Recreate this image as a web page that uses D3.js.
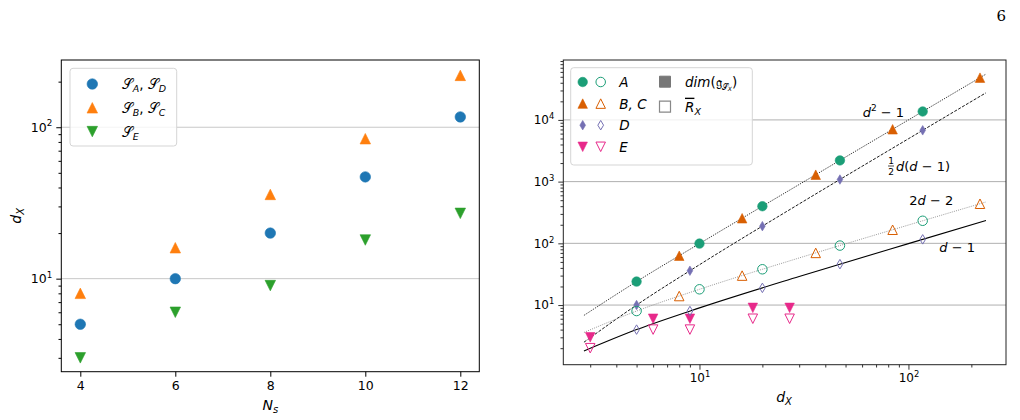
<!DOCTYPE html>
<html>
<head>
<meta charset="utf-8">
<script src="https://cdn.jsdelivr.net/npm/d3@7"></script>
<style>
  body { margin: 0; background: #fff; }
  svg text { font-family: "DejaVu Sans", sans-serif; fill: #000; }
  .it { font-style: italic; }
</style>
</head>
<body>
<div id="chart"></div>
<script>
// Left panel data: d_X against N_s
const nsValues = [4, 6, 8, 10, 12];
const dxAD = [5, 10, 20, 47, 117];
const dxBC = [8, 16, 36, 84, 220];
const dxE = [3, 6, 9, 18, 27];

// Right panel data: dim(g) (filled) and R_X (hollow) against d_X
const dxA = [5, 10, 20, 47, 117];
const dimA = [24, 99, 399, 2208, 13688];
const rankA = [8, 18, 38, 92, 232];
const dxB = [8, 16, 36, 84, 220];
const dimB = [63, 255, 1295, 7055, 48399];
const rankB = [14, 30, 70, 166, 438];
const dxD = [5, 9, 20, 47, 117];
const dimD = [10, 36, 190, 1081, 6786];
const rankD = [4, 8, 19, 46, 116];
const dxE2 = [3, 6, 9, 18, 27];
const dimE = [3, 6, 6, 9, 9];
const rankE = [2, 4, 4, 6, 6];

// Reference curves at a few d_X values
const curveSq = [[2.8, 6.8], [5, 24], [10, 99], [30, 899], [100, 9999], [235, 55224]];
const curveHalf = [[2.8, 2.5], [5, 10], [10, 45], [30, 435], [100, 4950], [235, 27495]];
const curveTwo = [[2.8, 3.6], [5, 8], [10, 18], [30, 58], [100, 198], [235, 468]];
const curveOne = [[2.8, 1.8], [5, 4], [10, 9], [30, 29], [100, 99], [235, 234]];

const leftTicksX = [4, 6, 8, 10, 12];
const leftMajorY = [10, 100];
const rightMajorX = [10, 100];
const rightMajorY = [10, 100, 1000, 10000];

const tab = { blue: '#1f77b4', orange: '#ff7f0e', green: '#2ca02c' };
const dark2 = { green: '#1b9e77', orange: '#d95f02', purple: '#7570b3', pink: '#e7298a' };

const svg = d3.select('#chart').append('svg')
  .attr('width', 1020).attr('height', 420);

// marker paths, size = full height in px
function markerPath(kind, s) {
  const h = s / 2;
  if (kind === 'circle') {
    return `M${h},0A${h},${h} 0 1,1 ${-h},0A${h},${h} 0 1,1 ${h},0Z`;
  }
  if (kind === 'up') return `M0,${-h}L${h},${h}L${-h},${h}Z`;
  if (kind === 'down') return `M0,${h}L${h},${-h}L${-h},${-h}Z`;
  if (kind === 'diamond') return `M0,${-h}L${h * 0.6},0L0,${h}L${-h * 0.6},0Z`;
  if (kind === 'square') return `M${-h},${-h}H${h}V${h}H${-h}Z`;
}

function drawMarker(g, x, y, kind, s, color, hollow) {
  g.append('path')
    .attr('transform', `translate(${x},${y})`)
    .attr('d', markerPath(kind, s))
    .attr('fill', hollow ? 'none' : color)
    .attr('stroke', color)
    .attr('stroke-width', hollow ? 1 : 0.6);
}

function powerLabel(sel, fs) {
  sel.each(function(d) {
    const t = d3.select(this);
    t.text('');
    t.append('tspan').text('10');
    t.append('tspan').attr('dy', -fs * 0.42).attr('font-size', fs * 0.7)
      .text(Math.round(Math.log10(d)));
  });
}

function minorTicks(lo, hi) {
  const out = [];
  for (let e = -1; e < 6; e++) {
    for (let m = 2; m < 10; m++) {
      const v = m * Math.pow(10, e);
      if (v > lo && v < hi) out.push(v);
    }
  }
  return out;
}

/* ---------- Left panel ---------- */
const L = { left: 61.3, right: 479.3, top: 60, bottom: 371.7 };
const xL = d3.scaleLinear().domain([3.6, 12.4]).range([L.left, L.right]);
const yL = d3.scaleLog().domain([2.43, 278]).range([L.bottom, L.top]);

const gl = svg.append('g');

// Gridlines
gl.selectAll('.gridL')
  .data(leftMajorY)
  .enter().append('line')
  .attr('x1', L.left).attr('x2', L.right)
  .attr('y1', d => yL(d)).attr('y2', d => yL(d))
  .attr('stroke', '#c8c8c8').attr('stroke-width', 1);

// Points
nsValues.forEach((n, i) => {
  drawMarker(gl, xL(n), yL(dxAD[i]), 'circle', 10.5, tab.blue, false);
  drawMarker(gl, xL(n), yL(dxBC[i]), 'up', 10.5, tab.orange, false);
  drawMarker(gl, xL(n), yL(dxE[i]), 'down', 10.5, tab.green, false);
});

// Axes
gl.append('g')
  .attr('transform', `translate(0,${L.bottom})`)
  .call(d3.axisBottom(xL).tickValues(leftTicksX).tickSize(5).tickPadding(4).tickSizeOuter(0))
  .call(g => g.selectAll('text').attr('font-size', 12.5).attr('font-family', 'DejaVu Sans'));

gl.append('g')
  .attr('transform', `translate(${L.left},0)`)
  .call(d3.axisLeft(yL).tickValues(minorTicks(2.43, 278)).tickSize(2.8).tickFormat('').tickSizeOuter(0));

gl.append('g')
  .attr('transform', `translate(${L.left},0)`)
  .call(d3.axisLeft(yL).tickValues(leftMajorY).tickSize(5).tickPadding(4).tickSizeOuter(0))
  .call(g => g.selectAll('text').attr('font-size', 12.5).attr('font-family', 'DejaVu Sans').call(powerLabel, 12.5));

gl.selectAll('.domain').remove();
gl.append('rect')
  .attr('x', L.left).attr('y', L.top)
  .attr('width', L.right - L.left).attr('height', L.bottom - L.top)
  .attr('fill', 'none').attr('stroke', '#000').attr('stroke-width', 1);

// Axis labels
const xlabL = gl.append('text')
  .attr('x', (L.left + L.right) / 2).attr('y', 410)
  .attr('text-anchor', 'middle').attr('font-size', 14);
xlabL.append('tspan').attr('class', 'it').text('N');
xlabL.append('tspan').attr('class', 'it').attr('font-size', 10).attr('dy', 3).text('s');

const ylabL = gl.append('text')
  .attr('transform', `translate(21,${(L.top + L.bottom) / 2}) rotate(-90)`)
  .attr('text-anchor', 'middle').attr('font-size', 14);
ylabL.append('tspan').attr('class', 'it').text('d');
ylabL.append('tspan').attr('class', 'it').attr('font-size', 10).attr('dy', 3).text('X');

// Legend
const legL = gl.append('g');
legL.append('rect')
  .attr('x', 70).attr('y', 68.3).attr('width', 106.7).attr('height', 77.7)
  .attr('rx', 3).attr('fill', '#fff').attr('fill-opacity', 0.8)
  .attr('stroke', '#d5d5d5');
const legLItems = [
  { kind: 'circle', color: tab.blue, a: 'A', b: 'D' },
  { kind: 'up', color: tab.orange, a: 'B', b: 'C' },
  { kind: 'down', color: tab.green, a: 'E', b: null }
];
legLItems.forEach((it, i) => {
  const y = 84 + i * 23.8;
  drawMarker(legL, 92.3, y, it.kind, 10.5, it.color, false);
  const t = legL.append('text').attr('x', 121.7).attr('y', y + 5).attr('font-size', 13.5);
  t.append('tspan').text('𝒮');
  t.append('tspan').attr('class', 'it').attr('font-size', 9.5).attr('dy', 3).text(it.a);
  if (it.b) {
    t.append('tspan').attr('dy', -3).text(', ');
    t.append('tspan').text('𝒮');
    t.append('tspan').attr('class', 'it').attr('font-size', 9.5).attr('dy', 3).text(it.b);
  }
});

/* ---------- Right panel ---------- */
const R = { left: 563.3, right: 1006, top: 60, bottom: 364.7 };
const xR = d3.scaleLog().domain([2.23, 293]).range([R.left, R.right]);
const yR = d3.scaleLog().domain([1.08, 93500]).range([R.bottom, R.top]);

const gr = svg.append('g');

gr.selectAll('.gridR')
  .data(rightMajorY)
  .enter().append('line')
  .attr('x1', R.left).attr('x2', R.right)
  .attr('y1', d => yR(d)).attr('y2', d => yR(d))
  .attr('stroke', '#b0b0b0').attr('stroke-width', 1);

// Reference curves
const line = d3.line().x(d => xR(d[0])).y(d => yR(d[1])).curve(d3.curveMonotoneX);
const curves = [
  { data: curveSq, color: '#000', dash: '1,1.2', w: 0.9 },
  { data: curveHalf, color: '#000', dash: '3,1.5', w: 0.9 },
  { data: curveTwo, color: '#8c8c8c', dash: '1,1.2', w: 0.9 },
  { data: curveOne, color: '#000', dash: null, w: 1.1 }
];
curves.forEach(c => {
  gr.append('path')
    .attr('d', line(c.data))
    .attr('fill', 'none')
    .attr('stroke', c.color)
    .attr('stroke-width', c.w)
    .attr('stroke-dasharray', c.dash);
});

// Points
const ms = 9.5;
const seriesR = [
  { dx: dxE2, dim: dimE, rank: rankE, kind: 'down', color: dark2.pink },
  { dx: dxD, dim: dimD, rank: rankD, kind: 'diamond', color: dark2.purple },
  { dx: dxB, dim: dimB, rank: rankB, kind: 'up', color: dark2.orange },
  { dx: dxA, dim: dimA, rank: rankA, kind: 'circle', color: dark2.green }
];
seriesR.forEach(s => {
  s.dx.forEach((d, i) => {
    drawMarker(gr, xR(d), yR(s.dim[i]), s.kind, ms, s.color, false);
    drawMarker(gr, xR(d), yR(s.rank[i]), s.kind, ms, s.color, true);
  });
});

// Axes
gr.append('g')
  .attr('transform', `translate(0,${R.bottom})`)
  .call(d3.axisBottom(xR).tickValues(minorTicks(2.23, 293)).tickSize(2.8).tickFormat('').tickSizeOuter(0));
gr.append('g')
  .attr('transform', `translate(0,${R.bottom})`)
  .call(d3.axisBottom(xR).tickValues(rightMajorX).tickSize(5).tickPadding(4).tickSizeOuter(0))
  .call(g => g.selectAll('text').attr('font-size', 12).attr('font-family', 'DejaVu Sans').call(powerLabel, 12));

gr.append('g')
  .attr('transform', `translate(${R.left},0)`)
  .call(d3.axisLeft(yR).tickValues(minorTicks(1.08, 93500)).tickSize(2.8).tickFormat('').tickSizeOuter(0));
gr.append('g')
  .attr('transform', `translate(${R.left},0)`)
  .call(d3.axisLeft(yR).tickValues(rightMajorY).tickSize(5).tickPadding(4).tickSizeOuter(0))
  .call(g => g.selectAll('text').attr('font-size', 12).attr('font-family', 'DejaVu Sans').call(powerLabel, 12));

gr.selectAll('.domain').remove();
gr.selectAll('.tick line').attr('stroke', '#333');
gr.append('rect')
  .attr('x', R.left).attr('y', R.top)
  .attr('width', R.right - R.left).attr('height', R.bottom - R.top)
  .attr('fill', 'none').attr('stroke', '#222').attr('stroke-width', 1);

const xlabR = gr.append('text')
  .attr('x', 784).attr('y', 401.7)
  .attr('text-anchor', 'middle').attr('font-size', 14);
xlabR.append('tspan').attr('class', 'it').text('d');
xlabR.append('tspan').attr('class', 'it').attr('font-size', 10).attr('dy', 3).text('X');

// Curve labels
const lab1 = gr.append('text').attr('x', 862.7).attr('y', 117).attr('font-size', 13);
lab1.append('tspan').attr('class', 'it').text('d');
lab1.append('tspan').attr('font-size', 9).attr('dy', -6).text('2');
lab1.append('tspan').attr('dy', 6).text(' − 1');

const lab2 = gr.append('g');
lab2.append('text').attr('x', 891).attr('y', 164).attr('font-size', 9)
  .attr('text-anchor', 'middle').text('1');
lab2.append('line').attr('x1', 888).attr('x2', 894).attr('y1', 166).attr('y2', 166)
  .attr('stroke', '#000').attr('stroke-width', 0.7);
lab2.append('text').attr('x', 891).attr('y', 175).attr('font-size', 9)
  .attr('text-anchor', 'middle').text('2');
const lab2b = lab2.append('text').attr('x', 896).attr('y', 171).attr('font-size', 13);
lab2b.append('tspan').attr('class', 'it').text('d');
lab2b.append('tspan').text('(');
lab2b.append('tspan').attr('class', 'it').text('d');
lab2b.append('tspan').text(' − 1)');

const lab3 = gr.append('text').attr('x', 909.3).attr('y', 205).attr('font-size', 13);
lab3.append('tspan').text('2');
lab3.append('tspan').attr('class', 'it').text('d');
lab3.append('tspan').text(' − 2');

const lab4 = gr.append('text').attr('x', 939.3).attr('y', 251.7).attr('font-size', 13);
lab4.append('tspan').attr('class', 'it').text('d');
lab4.append('tspan').text(' − 1');

// Legend
const legR = gr.append('g');
legR.append('rect')
  .attr('x', 570.7).attr('y', 67.7).attr('width', 181.6).attr('height', 97.3)
  .attr('rx', 3).attr('fill', '#fff').attr('fill-opacity', 0.8)
  .attr('stroke', '#d5d5d5');
const legRItems = [
  { kind: 'circle', color: dark2.green, label: 'A' },
  { kind: 'up', color: dark2.orange, label: 'B, C' },
  { kind: 'diamond', color: dark2.purple, label: 'D' },
  { kind: 'down', color: dark2.pink, label: 'E' }
];
legRItems.forEach((it, i) => {
  const y = 82 + i * 21.6;
  drawMarker(legR, 582.7, y, it.kind, ms, it.color, false);
  drawMarker(legR, 600.7, y, it.kind, ms, it.color, true);
  legR.append('text').attr('class', 'it').attr('x', 619.3).attr('y', y + 5)
    .attr('font-size', 13.5).text(it.label);
});
legR.append('path').attr('transform', 'translate(665,81.7)').attr('d', markerPath('square', 11))
  .attr('fill', '#777').attr('stroke', '#777');
legR.append('path').attr('transform', 'translate(665,106.7)').attr('d', markerPath('square', 11))
  .attr('fill', 'none').attr('stroke', '#888').attr('stroke-width', 1.2);
const dimLab = legR.append('text').attr('x', 685).attr('y', 86.7).attr('font-size', 13.5);
dimLab.append('tspan').attr('class', 'it').text('dim');
dimLab.append('tspan').text('(𝔤');
dimLab.append('tspan').attr('font-size', 8).attr('dy', 3).text('𝒮');
dimLab.append('tspan').attr('class', 'it').attr('font-size', 6).attr('dy', 1.5).text('X');
dimLab.append('tspan').attr('dy', -4.5).text(')');
const rLab = legR.append('text').attr('x', 685).attr('y', 111.7).attr('font-size', 13.5);
rLab.append('tspan').attr('class', 'it').attr('text-decoration', 'overline').text('R');
rLab.append('tspan').attr('class', 'it').attr('font-size', 9.5).attr('dy', 3).text('X');

// Page number
svg.append('text')
  .attr('x', 1006).attr('y', 21)
  .attr('text-anchor', 'end')
  .attr('font-size', 15)
  .style('font-family', '"DejaVu Serif", serif')
  .text('6');
</script>
</body>
</html>
